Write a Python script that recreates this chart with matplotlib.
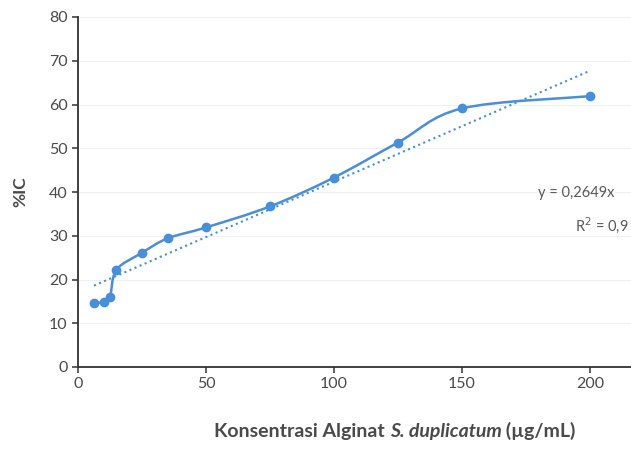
import matplotlib.pyplot as plt
import numpy as np
from matplotlib.path import Path
from matplotlib.patches import PathPatch

# dữ liệu
konsentrasi = [6.25, 10, 12.5, 15, 25, 35, 50, 75, 100, 125, 150, 200]
persen_ic = [14.6, 14.9, 16.0, 22.2, 26.1, 29.4, 31.9, 36.7, 43.3, 51.3, 59.1, 61.9]
x_ticks = [0, 50, 100, 150, 200]
y_ticks = [0, 10, 20, 30, 40, 50, 60, 70, 80]
# đường xu hướng như trên ảnh (hai đầu mút)
trend_y = [18.6, 67.7]

plt.rcParams['font.family'] = ['Lato', 'DejaVu Sans']

blue = '#4a8ed8'
text_col = '#4a4a4a'
fig = plt.figure(figsize=(6.31, 4.5), dpi=100)
ax = fig.add_axes([78 / 631, 83 / 450, 563 / 631, 350 / 450])

# đường cong mịn kiểu Excel (Bezier)
x = np.array(konsentrasi, float)
y = np.array(persen_ic, float)
verts = [(x[0], y[0])]
codes = [Path.MOVETO]
n = len(x)
for i in range(n - 1):
    p0 = np.array([x[max(i - 1, 0)], y[max(i - 1, 0)]])
    p1 = np.array([x[i], y[i]])
    p2 = np.array([x[i + 1], y[i + 1]])
    p3 = np.array([x[min(i + 2, n - 1)], y[min(i + 2, n - 1)]])
    c1 = p1 + (p2 - p0) / 6
    c2 = p2 - (p3 - p1) / 6
    verts += [tuple(c1), tuple(c2), tuple(p2)]
    codes += [Path.CURVE4] * 3
ax.add_patch(PathPatch(Path(verts, codes), fill=False, edgecolor=blue, lw=1.8, zorder=3))
ax.plot(konsentrasi, persen_ic, 'o', color=blue, ms=6, zorder=4)

# đường xu hướng
ax.plot([konsentrasi[0], konsentrasi[-1]], trend_y, ':', color=blue, lw=1.5, zorder=2)

ax.text(179.7, 39.8, 'y = 0,2649x', fontsize=10.5, color='#595959', va='center')
ax.text(194.1, 32.5, 'R$^2$ = 0,9', fontsize=10.5, color='#595959', va='center')

ax.set_xlim(0, 220)
ax.set_ylim(0, 80)
ax.set_xticks(x_ticks)
ax.set_yticks(y_ticks)
ax.grid(axis='y', color='#f0f0f0', lw=0.8)
ax.set_axisbelow(True)
for s in ['top', 'right']:
    ax.spines[s].set_visible(False)
for s in ['left', 'bottom']:
    ax.spines[s].set_color('#333333')
    ax.spines[s].set_linewidth(1.3)
ax.tick_params(colors='#333333', labelcolor=text_col, labelsize=11.5, length=4, width=1.1)

ax.set_ylabel('%IC', fontsize=12.5, fontweight='bold', color=text_col)
ax.yaxis.set_label_coords(-50 / 563, 0.5)

# nhãn trục x gồm 3 phần (phần giữa in nghiêng)
parts = [('Konsentrasi Alginat ', 'normal'), ('S. duplicatum', 'italic'), (' (µg/mL)', 'normal')]
renderer = fig.canvas.get_renderer()
texts = [fig.text(0, 0, s, fontsize=14, fontweight='bold', style=st, color=text_col, va='baseline')
         for s, st in parts]
widths = [t.get_window_extent(renderer).width for t in texts]
x0 = 395 - sum(widths) / 2
for t, w in zip(texts, widths):
    t.set_position((x0 / 631, 1 - 437 / 450))
    x0 += w

fig.savefig('out.png', dpi=100)
